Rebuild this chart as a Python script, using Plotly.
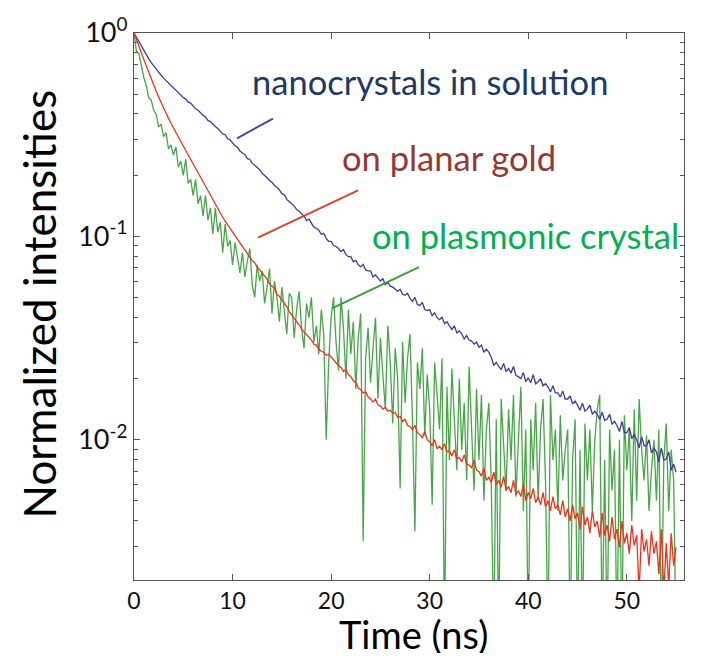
import plotly.graph_objects as go

# Sampling: t = 0 .. 55 ns in 0.25 ns steps (x0 / dx in the traces)
T0 = 0.0
DT = 0.25

# log10 of normalized intensity (4 samples per ns)
blue_log10 = [
    0, -0.022, -0.045, -0.066,
    -0.085, -0.106, -0.127, -0.146,
    -0.163, -0.178, -0.195, -0.208,
    -0.222, -0.234, -0.247, -0.257,
    -0.27, -0.28, -0.295, -0.305,
    -0.317, -0.325, -0.34, -0.345,
    -0.36, -0.373, -0.38, -0.395,
    -0.405, -0.412, -0.43, -0.436,
    -0.45, -0.46, -0.47, -0.482,
    -0.496, -0.5, -0.52, -0.525,
    -0.54, -0.555, -0.562, -0.58,
    -0.59, -0.597, -0.618, -0.622,
    -0.64, -0.652, -0.665, -0.672,
    -0.69, -0.70, -0.712, -0.725,
    -0.735, -0.75, -0.758, -0.772,
    -0.79, -0.795, -0.818, -0.83,
    -0.838, -0.85, -0.868, -0.875,
    -0.89, -0.898, -0.922, -0.915,
    -0.935, -0.955, -0.96, -0.97,
    -0.99, -0.985, -1.01, -1.025,
    -1.025, -1.045, -1.05, -1.06,
    -1.075, -1.065, -1.09, -1.10,
    -1.10, -1.125, -1.118, -1.14,
    -1.15, -1.138, -1.165, -1.17,
    -1.17, -1.20, -1.19, -1.205,
    -1.22, -1.208, -1.238, -1.225,
    -1.245, -1.25, -1.262, -1.27,
    -1.26, -1.285, -1.29, -1.28,
    -1.305, -1.32, -1.30, -1.335,
    -1.34, -1.325, -1.36, -1.365,
    -1.36, -1.39, -1.375, -1.40,
    -1.41, -1.398, -1.43, -1.42,
    -1.44, -1.458, -1.44, -1.475,
    -1.465, -1.48, -1.505, -1.488,
    -1.51, -1.515, -1.53, -1.52,
    -1.545, -1.535, -1.57, -1.555,
    -1.57, -1.595, -1.635, -1.62,
    -1.64, -1.655, -1.625, -1.665,
    -1.65, -1.672, -1.64, -1.685,
    -1.69, -1.70, -1.67, -1.715,
    -1.695, -1.72, -1.68, -1.725,
    -1.715, -1.70, -1.735, -1.725,
    -1.74, -1.765, -1.735, -1.77,
    -1.77, -1.79, -1.76, -1.80,
    -1.80, -1.785, -1.825, -1.81,
    -1.83, -1.855, -1.82, -1.86,
    -1.85, -1.83, -1.875, -1.86,
    -1.875, -1.90, -1.865, -1.905,
    -1.90, -1.875, -1.925, -1.91,
    -1.93, -1.96, -1.91, -1.965,
    -1.965, -1.94, -1.995, -1.975,
    -2.0, -2.04, -1.985, -2.03,
    -2.03, -2.0, -2.065, -2.04,
    -2.06, -2.11, -2.04, -2.1,
    -2.095, -2.06, -2.15, -2.12,
    -2.16,
]

red_log10 = [
    0, -0.03, -0.065, -0.098,
    -0.13, -0.162, -0.195, -0.226,
    -0.256, -0.286, -0.315, -0.343,
    -0.37, -0.396, -0.42, -0.444,
    -0.468, -0.49, -0.512, -0.534,
    -0.556, -0.578, -0.60, -0.622,
    -0.644, -0.666, -0.69, -0.712,
    -0.735, -0.756, -0.78, -0.80,
    -0.825, -0.846, -0.866, -0.886,
    -0.906, -0.925, -0.944, -0.962,
    -0.98, -0.998, -1.015, -1.032,
    -1.05, -1.066, -1.084, -1.10,
    -1.12, -1.13, -1.152, -1.165,
    -1.18, -1.2, -1.21, -1.235,
    -1.245, -1.255, -1.285, -1.295,
    -1.313, -1.33, -1.345, -1.37,
    -1.385, -1.4, -1.42, -1.435,
    -1.456, -1.47, -1.485, -1.5,
    -1.51, -1.53, -1.535, -1.555,
    -1.565, -1.57, -1.585, -1.58,
    -1.595, -1.61, -1.62, -1.635,
    -1.645, -1.665, -1.655, -1.68,
    -1.69, -1.71, -1.72, -1.745,
    -1.755, -1.77, -1.765, -1.79,
    -1.80, -1.815, -1.8, -1.83,
    -1.835, -1.85, -1.84, -1.86,
    -1.855, -1.87, -1.865, -1.89,
    -1.885, -1.91, -1.90, -1.93,
    -1.935, -1.95, -1.93, -1.965,
    -1.975, -1.99, -1.96, -2.0,
    -2.01, -2.03, -2.0, -2.045,
    -2.032, -2.05, -2.02, -2.06,
    -2.055, -2.08, -2.05, -2.095,
    -2.088, -2.11, -2.075, -2.12,
    -2.125, -2.14, -2.10, -2.15,
    -2.157, -2.18, -2.14, -2.2,
    -2.185, -2.21, -2.16, -2.22,
    -2.2, -2.235, -2.18, -2.25,
    -2.23, -2.26, -2.2, -2.27,
    -2.25, -2.28, -2.22, -2.3,
    -2.26, -2.29, -2.24, -2.31,
    -2.28, -2.32, -2.26, -2.33,
    -2.3, -2.35, -2.28, -2.34,
    -2.32, -2.37, -2.30, -2.38,
    -2.34, -2.40, -2.32, -2.39,
    -2.36, -2.44, -2.33, -2.42,
    -2.38, -2.46, -2.35, -2.43,
    -2.40, -2.48, -2.36, -2.47,
    -2.42, -2.50, -2.38, -2.49,
    -2.44, -2.53, -2.40, -2.51,
    -2.46, -2.56, -2.42, -2.52,
    -2.47, -2.75, -2.44, -2.55,
    -2.49, -2.62, -2.45, -2.56,
    -2.50, -2.66, -2.44, -2.75,
    -2.51, -2.72, -2.46, -2.62,
    -2.53,
]

green_log10 = [
    0, -0.09, -0.10, -0.17,
    -0.22, -0.26, -0.32, -0.33,
    -0.38, -0.40, -0.46, -0.45,
    -0.51, -0.49, -0.57, -0.55,
    -0.60, -0.56, -0.66, -0.63,
    -0.70, -0.62, -0.74, -0.72,
    -0.80, -0.72, -0.84, -0.80,
    -0.90, -0.80, -0.92, -0.86,
    -0.99, -0.86, -0.98, -0.93,
    -1.08, -0.94, -1.05, -1.02,
    -1.14, -1.03, -1.10, -1.18,
    -1.08, -1.20, -1.12, -1.06,
    -1.24, -1.30, -1.14, -1.22,
    -1.17, -1.33, -1.25, -1.16,
    -1.38, -1.22, -1.30, -1.42,
    -1.25, -1.35, -1.48, -1.28,
    -1.30, -1.50, -1.36, -1.27,
    -1.45, -1.55, -1.33, -1.40,
    -1.30, -1.52, -1.44, -1.58,
    -1.36, -1.48, -2.00, -1.62,
    -1.40, -1.30, -1.52, -1.66,
    -1.30, -1.45, -1.70, -1.36,
    -1.58, -1.42, -1.75, -1.50,
    -1.38, -2.50, -1.60, -1.45,
    -1.72, -1.55, -1.40, -1.80,
    -1.50, -1.68, -1.85, -1.44,
    -1.62, -1.92, -1.55, -1.70,
    -2.24, -1.52, -1.82, -1.60,
    -1.48, -1.90, -2.45, -1.62,
    -1.75, -1.55, -1.98, -1.68,
    -1.85, -2.32, -1.62, -1.78,
    -1.95, -1.60, -3.0, -1.74,
    -2.10, -1.65, -1.88, -2.15,
    -1.70, -2.05, -1.82, -2.20,
    -1.64, -1.95, -2.25, -1.75,
    -2.10, -1.78, -2.30, -1.95,
    -1.82, -2.22, -3.0, -1.90,
    -3.0, -1.80, -2.05, -2.25,
    -1.85, -2.10, -1.78, -2.28,
    -2.0, -1.74, -2.35, -1.95,
    -3.0, -1.90, -2.15, -1.82,
    -2.30, -1.95, -1.80, -2.20,
    -3.0, -1.78, -2.10, -1.95,
    -2.35, -1.88, -2.20, -2.05,
    -1.95, -3.0, -2.10, -1.90,
    -3.0, -2.05, -3.0, -1.92,
    -2.20, -1.95, -2.35, -2.0,
    -1.85, -1.78, -3.0, -2.10,
    -3.0, -1.95, -2.25, -2.05,
    -3.0, -2.0, -3.0, -1.88,
    -2.15, -1.95, -2.40, -1.85,
    -2.30, -1.80, -2.05, -2.20,
    -1.98, -2.35, -2.15, -2.0,
    -2.30, -1.95, -3.0, -2.10,
    -1.92, -2.35, -2.05, -2.2,
    -3.0,
]

x_tickvals = [0, 10, 20, 30, 40, 50]
y_tickvals = [1, 0.1, 0.01]
y_ticktext = ["10<sup>0</sup>", "10<sup>-1</sup>", "10<sup>-2</sup>"]
y_minor = [m * 10.0 ** e for e in (-3, -2, -1) for m in range(2, 10)]

FONT = "Lato"
BLUE = "#3c3c9c"
RED = "#f2301a"
GREEN = "rgba(40,150,40,0.85)"

fig = go.Figure()
fig.add_trace(go.Scatter(x0=T0, dx=DT, y=[10 ** v for v in green_log10], mode="lines",
                         line=dict(color=GREEN, width=1.3), name="on plasmonic crystal"))
fig.add_trace(go.Scatter(x0=T0, dx=DT, y=[10 ** v for v in blue_log10], mode="lines",
                         line=dict(color=BLUE, width=1.3), name="nanocrystals in solution"))
fig.add_trace(go.Scatter(x0=T0, dx=DT, y=[10 ** v for v in red_log10], mode="lines",
                         line=dict(color=RED, width=1.3), name="on planar gold"))

axis_common = dict(showgrid=False, zeroline=False, showline=True, linecolor="#555",
                   linewidth=1.2, mirror="ticks", ticks="inside", tickcolor="#555",
                   ticklen=6)

fig.update_xaxes(range=[0, 55.8], tickvals=x_tickvals,
                 tickfont=dict(family=FONT, size=23, color="#111"), **axis_common)
fig.update_yaxes(type="log", range=[-2.69, 0], tickvals=y_tickvals, ticktext=y_ticktext,
                 tickfont=dict(family=FONT, size=27, color="#111"),
                 minor=dict(tickvals=y_minor, ticks="inside", ticklen=4, tickcolor="#555"),
                 **axis_common)

W, H = 705, 661
L, R, TP, B = 134, 21, 24, 81
pw, ph = W - L - R, H - TP - B

def px(xp):
    return (xp - L) / pw

def py(yp):
    return (H - B - yp) / ph

leaders = [
    ((237, 131), (273, 111), "#4646a6"),
    ((258, 232), (358, 184), "#e0402a"),
    ((332, 304), (419, 262), "#3a9e3a"),
]
for (a, b, c) in leaders:
    fig.add_shape(type="line", xref="paper", yref="paper",
                  x0=px(a[0]), y0=py(a[1]), x1=px(b[0]), y1=py(b[1]),
                  line=dict(color=c, width=2))

labels = [
    ("nanocrystals in solution", 250, 73, "#203864"),
    ("on planar gold", 340, 151, "#953735"),
    ("on plasmonic crystal", 370, 230, "#00b050"),
]
for (txt, xl, yc, col) in labels:
    fig.add_annotation(text=txt, xref="paper", yref="paper", x=px(xl), y=py(yc),
                       xanchor="left", yanchor="middle", showarrow=False,
                       font=dict(family=FONT, size=34.5, color=col))

fig.add_annotation(text="Time (ns)", xref="paper", yref="paper", x=px(414), y=py(635),
                   xanchor="center", yanchor="middle", showarrow=False, height=38,
                   font=dict(family=FONT, size=38, color="#000"))
fig.add_annotation(text="Normalized intensities", xref="paper", yref="paper",
                   x=px(39), y=py(300), xanchor="center", yanchor="middle",
                   textangle=-90, showarrow=False,
                   font=dict(family=FONT, size=44, color="#000"))

fig.update_layout(width=W, height=H, margin=dict(l=L, r=R, t=TP, b=B),
                  paper_bgcolor="white", plot_bgcolor="white", showlegend=False)

fig.write_html("out.html")
